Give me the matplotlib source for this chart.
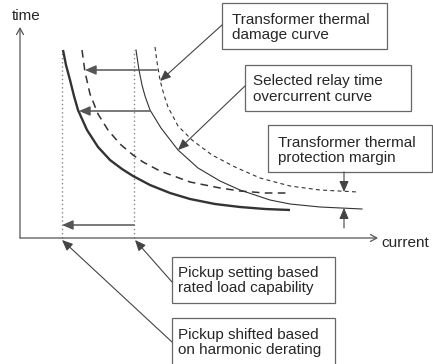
import matplotlib.pyplot as plt
from matplotlib.patches import Rectangle

plt.rcParams["font.family"] = ["Liberation Sans", "DejaVu Sans"]

# curves, in (current, time) units of the sketch
relay_shift_i = [4.3, 4.6, 5.0, 5.4, 5.8, 6.7, 7.8, 9.0, 10.2, 11.3, 13.0, 15.0, 17.0, 19.5, 22.0, 24.5, 27.0]
relay_shift_t = [18.8, 17.3, 15.8, 14.2, 12.8, 10.8, 9.1, 7.8, 6.9, 6.2, 5.3, 4.5, 3.9, 3.4, 3.1, 2.9, 2.8]

damage_shift_i = [6.2, 6.5, 7.0, 7.8, 8.8, 10.0, 11.3, 12.3, 14.0, 17.0, 20.0, 22.0, 24.5, 26.8]
damage_shift_t = [18.8, 16.6, 14.4, 12.4, 10.8, 9.4, 8.3, 7.6, 6.7, 5.6, 5.0, 4.7, 4.5, 4.5]

relay_i = [11.6, 11.9, 12.2, 12.5, 13.0, 14.1, 15.8, 17.8, 20.0, 22.0, 25.0, 27.0, 30.0, 34.2]
relay_t = [18.8, 16.8, 15.3, 14.2, 12.8, 11.0, 8.8, 7.0, 5.7, 4.8, 3.8, 3.4, 3.1, 2.9]

damage_i = [13.5, 13.7, 14.0, 14.4, 14.8, 15.8, 17.2, 19.2, 21.5, 24.0, 27.0, 30.0, 33.8]
damage_t = [19.1, 17.6, 15.8, 14.3, 13.1, 11.2, 9.8, 8.3, 7.1, 6.0, 5.2, 4.8, 4.6]

pickup_rated = 11.4
pickup_shifted = 4.2
pickup_top = 18.8

# shift arrows: (from current, to current, time)
shifts = [(13.7, 6.5, 16.8), (13.0, 5.9, 12.7), (pickup_rated, pickup_shifted, 1.3)]

# label boxes: x0, y0, x1, y1, text x, text y, text
boxes = [
    (20.2, 18.9, 36.7, 23.5, 21.2, 21.05, "Transformer thermal\ndamage curve"),
    (22.5, 12.7, 39.1, 17.3, 23.3, 14.9, "Selected relay time\novercurrent curve"),
    (24.8, 6.6, 41.2, 11.3, 25.8, 8.75, "Transformer thermal\nprotection margin"),
    (15.2, -6.5, 31.5, -1.9, 15.8, -4.25, "Pickup setting based\nrated load capability"),
    (15.2, -13.0, 31.5, -8.0, 15.8, -10.45, "Pickup shifted based\non harmonic derating"),
]

# leaders: start -> tip
leaders = [
    ((20.2, 21.3), (14.0, 15.7)),
    ((22.5, 15.2), (15.8, 8.8)),
    ((32.4, 6.6), (32.4, 4.6)),
    ((32.4, 1.0), (32.4, 3.0)),
    ((15.2, -4.4), (11.5, -0.2)),
    ((15.2, -10.4), (4.2, -0.2)),
]

ink = "#262626"
fs = 11

fig = plt.figure(figsize=(4.33, 3.64), dpi=100)
ax = fig.add_axes([0, 0, 1, 1])
ax.set_xlim(-2.0, 41.3)
ax.set_ylim(-12.6, 23.8)
ax.axis("off")

# axes with open arrow heads
axis_style = dict(arrowstyle="->,head_length=0.45,head_width=0.25", lw=0.9, color="#555555",
                  shrinkA=0, shrinkB=0, mutation_scale=10)
ax.annotate("", xy=(35.8, 0), xytext=(0, 0), arrowprops=axis_style)
ax.annotate("", xy=(0, 21.1), xytext=(0, 0), arrowprops=axis_style)
ax.text(0.6, 21.75, "time", ha="center", va="baseline", fontsize=fs, color=ink)
ax.text(36.1, -0.9, "current", ha="left", va="baseline", fontsize=fs, color=ink)

# pickup lines
for p in (pickup_shifted, pickup_rated):
    ax.plot([p, p], [0, pickup_top], color="#888888", lw=1.0, linestyle=(0, (1, 2)))

ax.plot(relay_shift_i, relay_shift_t, color="#333333", lw=1.7, solid_capstyle="butt")
ax.plot(damage_shift_i, damage_shift_t, color="#333333", lw=1.1, linestyle=(0, (5, 3.5)))
ax.plot(relay_i, relay_t, color="#333333", lw=0.8)
ax.plot(damage_i, damage_t, color="#333333", lw=0.8, linestyle=(0, (3.5, 3)))

head = "-|>,head_length=0.65,head_width=0.28"
for x0, x1, t in shifts:
    ax.annotate("", xy=(x1, t), xytext=(x0, t),
                arrowprops=dict(arrowstyle=head, lw=1.1, color="#555555",
                                shrinkA=0, shrinkB=0, mutation_scale=10))

for start, tip in leaders:
    ax.annotate("", xy=tip, xytext=start,
                arrowprops=dict(arrowstyle=head, lw=0.8, color="#444444",
                                shrinkA=0, shrinkB=0, mutation_scale=10))

for x0, y0, x1, y1, tx, ty, label in boxes:
    ax.add_patch(Rectangle((x0, y0), x1 - x0, y1 - y0, fill=True, facecolor="white",
                           edgecolor="#666666", lw=0.9, clip_on=False))
    ax.text(tx, ty, label, ha="left", va="center", fontsize=fs, color=ink, linespacing=1.1)

fig.savefig("out.png", dpi=100)
